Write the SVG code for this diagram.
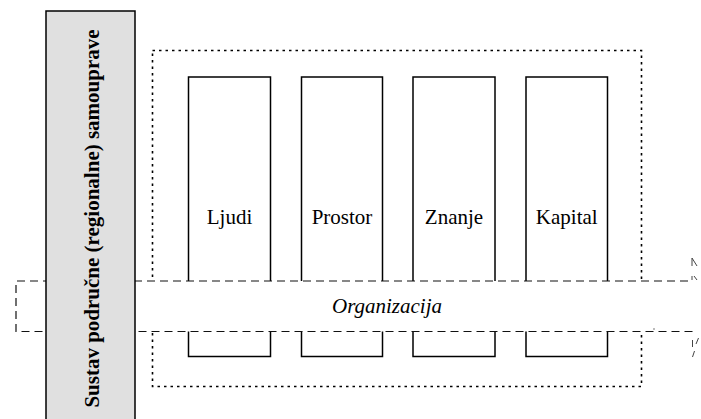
<svg xmlns="http://www.w3.org/2000/svg" width="701" height="419" viewBox="0 0 701 419">
<style>
.col{fill:#fff;stroke:#000;stroke-width:1.5}
.lbl{font-family:"Liberation Serif","Times New Roman",serif;font-size:21px;fill:#000;text-anchor:middle}
.dot{fill:none;stroke:#000;stroke-width:1.6;stroke-dasharray:2.5 4}
.dash{fill:#fff;stroke:#111;stroke-width:1.2;stroke-dasharray:8 5}
.frag{stroke:#444;stroke-width:1;fill:none}
</style>
<rect width="701" height="419" fill="#fff"/>
<g id="frame">
<rect x="152.5" y="50.5" width="489" height="336" class="dot"/>
</g>
<g id="ljudi"><rect x="188.5" y="77" width="82" height="279.5" class="col"/><text x="229.5" y="224" class="lbl">Ljudi</text></g>
<g id="prostor"><rect x="301.5" y="77" width="81" height="279.5" class="col"/><text x="342" y="224" class="lbl">Prostor</text></g>
<g id="znanje"><rect x="413" y="77" width="82" height="279.5" class="col"/><text x="454" y="224" class="lbl">Znanje</text></g>
<g id="kapital"><rect x="526" y="77" width="81.5" height="279.5" class="col"/><text x="566.75" y="224" class="lbl">Kapital</text></g>
<g id="organizacija">
<path d="M688,281 H16 V331.5 H693 V334" class="dash"/>
<text x="387" y="313" class="lbl" font-style="italic">Organizacija</text>
</g>
<g id="connectors">
<path d="M692,258 V266 M692,258 L697,266 M692,276 V280 M694,276 L697,280" class="frag"/>
<path d="M692.5,340 V347 M698.5,338 L696,344 M694.5,351 L692.5,357" class="frag"/>
<circle cx="654" cy="329" r="0.7" fill="#444"/>
</g>
<g id="sustav">
<rect x="46" y="11" width="89" height="420" fill="#e0e0e0" stroke="#000" stroke-width="1.5"/>
<text transform="translate(99,218.5) rotate(-90)" class="lbl" font-weight="bold">Sustav područne (regionalne) samouprave</text>
</g>
</svg>
